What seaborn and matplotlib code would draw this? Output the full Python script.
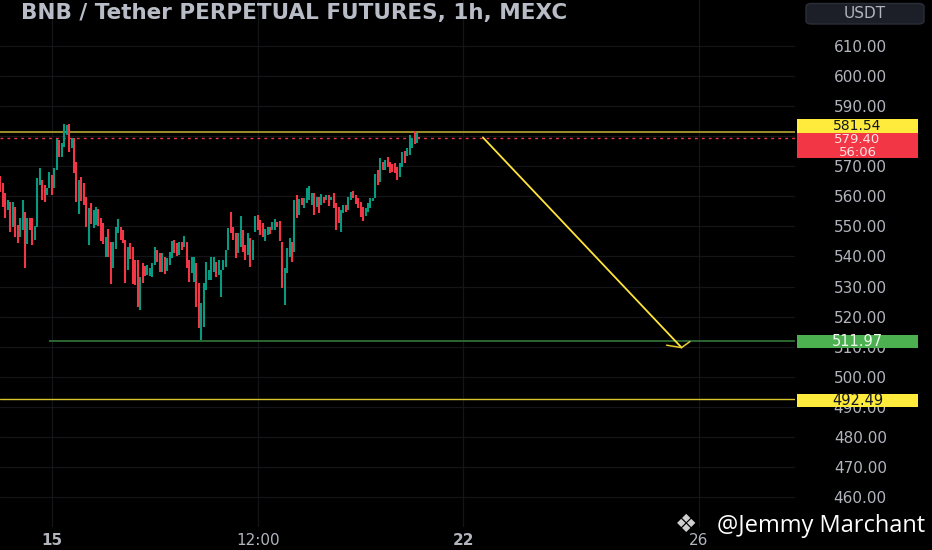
import numpy as np
import pandas as pd
import matplotlib.pyplot as plt
from matplotlib.patches import Rectangle, FancyBboxPatch
import seaborn as sns

# 1h candles, open / close (USDT)
opens = [566.8, 564.4, 561.1, 555.5, 558.1, 549.8, 556.5, 550.5, 546.5, 548.8,
         554.8, 544.2, 552.8, 552.8, 545.5, 549.8, 563.8, 565.4, 563.8, 560.4,
         562.8, 567.1, 562.8, 568.8, 578.7, 573.1, 576.4, 580.4, 584.1, 576.1,
         579.4, 571.4, 554.1, 566.4, 564.4, 559.8, 543.8, 557.8, 549.5, 550.5,
         555.8, 552.8, 551.1, 539.8, 549.1, 544.8, 536.2, 542.5, 547.8, 549.8,
         548.8, 545.5, 535.5, 544.5, 543.2, 538.8, 538.8, 522.2, 537.8, 536.8,
         533.8, 533.5, 533.2, 537.2, 542.2, 541.2, 534.8, 539.8, 535.2, 537.2,
         539.5, 545.5, 544.5, 540.5, 544.8, 543.2, 544.8, 538.8, 534.5, 531.5,
         537.8, 531.2, 512.2, 516.5, 528.9, 532.2, 532.2, 534.8, 538.2, 533.8,
         526.5, 535.5, 536.5, 542.2, 554.8, 549.8, 547.8, 541.2, 543.2, 548.8,
         543.8, 540.5, 546.1, 538.8, 548.1, 553.8, 552.1, 551.1, 545.2, 547.1,
         549.8, 548.8, 548.8, 551.5, 551.8, 544.8, 523.9, 534.5, 539.8, 544.8,
         541.5, 560.4, 553.8, 559.4, 556.1, 557.8, 558.8, 557.1, 561.1, 556.5,
         559.8, 557.1, 559.8, 558.8, 560.4, 558.8, 561.1, 557.8, 556.5, 548.1,
         554.5, 557.1, 555.5, 558.8, 561.8, 560.4, 559.4, 558.1, 556.5, 553.5,
         554.8, 556.1, 558.5, 559.4, 568.8, 564.8, 571.4, 568.8, 573.1, 571.4,
         570.8, 571.1, 569.8, 566.4, 569.8, 575.1, 573.4, 573.8, 576.1, 581.7,
         577.7, 579.7]
closes = [561.4, 556.5, 552.8, 558.8, 548.1, 558.1, 546.5, 544.5, 552.8, 558.8,
          536.2, 552.8, 548.8, 543.8, 550.1, 566.1, 569.4, 558.8, 558.1, 562.8,
          568.1, 560.4, 569.4, 579.1, 573.1, 577.7, 584.1, 583.7, 574.7, 579.4,
          567.8, 558.1, 565.4, 558.5, 557.1, 549.8, 556.1, 550.8, 555.5, 556.5,
          550.1, 545.2, 544.2, 546.5, 539.8, 530.8, 544.8, 549.8, 552.5, 545.5,
          544.5, 531.2, 543.2, 539.2, 530.8, 530.5, 523.2, 533.2, 531.2, 533.5,
          537.2, 536.2, 537.8, 543.2, 538.2, 534.8, 541.2, 534.2, 539.5, 541.5,
          545.2, 541.2, 540.2, 544.8, 542.2, 546.8, 536.2, 531.5, 539.8, 539.8,
          523.2, 516.2, 524.5, 531.2, 538.2, 535.5, 539.8, 539.8, 533.2, 538.8,
          535.5, 538.8, 542.2, 549.5, 547.8, 545.5, 539.5, 547.8, 553.5, 541.5,
          538.8, 547.8, 536.5, 545.5, 553.5, 548.8, 547.1, 546.5, 549.1, 549.8,
          547.5, 551.5, 552.5, 549.8, 545.2, 529.5, 536.2, 542.8, 546.1, 538.2,
          558.8, 552.8, 559.1, 557.1, 559.4, 562.8, 563.4, 561.1, 553.8, 559.8,
          554.5, 560.8, 557.8, 560.4, 556.8, 559.8, 556.1, 548.8, 551.1, 555.5,
          557.1, 554.8, 559.8, 561.4, 559.4, 557.5, 556.1, 553.1, 551.8, 556.1,
          557.8, 559.4, 559.4, 567.4, 563.8, 572.8, 568.8, 572.1, 569.8, 567.8,
          568.1, 567.8, 565.4, 571.1, 574.7, 571.1, 576.1, 580.4, 579.4, 577.4,
          581.1, 579.4]

# price levels drawn on the chart
resistance = 581.54
last_price = 579.40
support = 511.97
support2 = 492.49
countdown = "56:06"
support_start = 19.8   # candle index where the green line starts

# projected move (candle index, price)
path_x = [196.9, 278.0]
path_y = [579.6, 509.7]
head_x = [271.9, 278.0, 281.4]
head_y = [510.5, 509.7, 511.7]

ytick_vals = list(range(460, 611, 10))
hidden_tick = 580   # sits fully under the price labels
xtick_pos = [21.0, 105.1, 188.8, 285.1]
xtick_labels = ["15", "12:00", "22", "26"]

UP = "#089981"
DOWN = "#f23645"
TXT = "#b2b5be"

sns.set_theme(style="dark")
plt.rcParams["font.family"] = ["DejaVu Sans"]

fig = plt.figure(figsize=(9.32, 5.5), dpi=100, facecolor="black")
ax = fig.add_axes([0, 23 / 550, 795 / 932, 527 / 550])
ax.set_facecolor("black")

df = pd.DataFrame({"idx": np.arange(len(opens)), "open": opens, "close": closes})
df["dir"] = np.where(df["close"] >= df["open"], "up", "down")
long = df.melt(id_vars=["idx", "dir"], value_vars=["open", "close"], value_name="price")
sns.lineplot(data=long, x="idx", y="price", hue="dir", units="idx", estimator=None,
             palette={"up": UP, "down": DOWN}, linewidth=1.5, legend=False,
             sort=False, ax=ax, solid_capstyle="butt", zorder=3)

ax.set_xlim(-0.2, 324.3)
ax.set_ylim(450.04, 625.3)

# levels
ax.axhline(resistance, color="#a89a2e", lw=1.3, zorder=2)
ax.axhline(last_price, color=DOWN, lw=1, ls=(0, (2, 3)), zorder=2)
ax.hlines(support, support_start, 324.3, color="#2f6e36", lw=1.3, zorder=2)
ax.axhline(support2, color="#d8c62a", lw=1, zorder=2)

ax.plot(path_x, path_y, color="#ffe43a", lw=1.3, zorder=4)
ax.plot(head_x, head_y, color="#e8cc30", lw=1.1, zorder=4)

# axes
ax.set_yticks(ytick_vals)
ax.set_yticklabels(["" if v == hidden_tick else f"{v:.2f}" for v in ytick_vals])
ax.yaxis.tick_right()
ax.tick_params(axis="y", length=0, pad=47, labelcolor=TXT, labelsize=11)
plt.setp(ax.get_yticklabels(), ha="center")
ax.set_xticks(xtick_pos)
ax.set_xticklabels(xtick_labels)
ax.tick_params(axis="x", length=0, pad=4, labelcolor=TXT, labelsize=11)
for lbl in ax.get_xticklabels():
    if lbl.get_text() in ("15", "22"):
        lbl.set_fontweight("bold")
ax.set_xlabel("")
ax.set_ylabel("")
ax.grid(True, color="#131518", lw=0.9)
for s in ax.spines.values():
    s.set_visible(False)

# price labels on the scale
tr = ax.get_yaxis_transform()
bx, bw = 797 / 795, 121 / 795
cx = bx + bw / 2


def price_box(y0, y1, fc):
    ax.add_patch(Rectangle((bx, y0), bw, y1 - y0, transform=tr, fc=fc, ec="none",
                           clip_on=False, zorder=5))


price_box(581.2, 585.86, "#ffeb3b")
ax.text(cx, 583.5, f"{resistance:.2f}", transform=tr, ha="center", va="center",
        color="#131722", fontsize=10, zorder=6, clip_on=False)
price_box(572.75, 581.07, DOWN)
ax.text(cx, 578.75, f"{last_price:.2f}", transform=tr, ha="center", va="center",
        color="#ffe3e5", fontsize=9.5, zorder=6, clip_on=False)
ax.text(cx, 574.7, countdown, transform=tr, ha="center", va="center",
        color="#ffe3e5", fontsize=9.5, zorder=6, clip_on=False)
price_box(509.6, 513.9, "#4caf50")
ax.text(cx, 511.75, f"{support:.2f}", transform=tr, ha="center", va="center",
        color="#eef8ee", fontsize=10.5, zorder=6, clip_on=False)
price_box(489.9, 494.4, "#ffeb3b")
ax.text(cx, 492.15, f"{support2:.2f}", transform=tr, ha="center", va="center",
        color="#131722", fontsize=10.5, zorder=6, clip_on=False)

# header
fig.text(21 / 932, 1 - 13 / 550, "BNB / Tether PERPETUAL FUTURES, 1h, MEXC",
         color="#b8bcc6", fontsize=15.5, fontweight="bold", ha="left", va="center")
fig.add_artist(FancyBboxPatch((806 / 932, 1 - 24 / 550), 118 / 932, 20.5 / 550,
                              boxstyle="round,pad=0,rounding_size=0.006",
                              transform=fig.transFigure, fc="#1c1f27", ec="#2a2e39", lw=1))
fig.text(865 / 932, 1 - 14 / 550, "USDT", color=TXT, fontsize=11,
         ha="center", va="center")

# watermark
fig.text(686 / 932, 1 - 525 / 550, "❖", color="#cfcfcf", fontsize=18,
         ha="center", va="center")
fig.text(925 / 932, 1 - 526 / 550, "@Jemmy Marchant", color="white", fontsize=17,
         family=["Open Sans", "DejaVu Sans"], ha="right", va="center")

fig.savefig("out.png", dpi=100, facecolor="black")
